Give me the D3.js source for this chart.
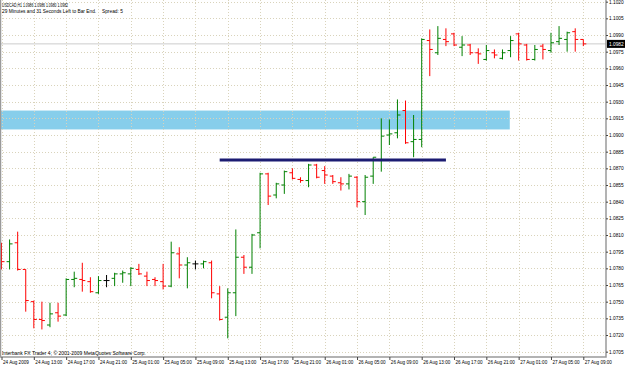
<!DOCTYPE html>
<html><head><meta charset="utf-8">
<script src="https://cdn.jsdelivr.net/npm/d3@7"></script>
<style>html,body{margin:0;padding:0;background:#fff;overflow:hidden}</style>
</head><body>
<svg id="c" width="625" height="366"></svg>
<script>
// ---- data (USDCAD, H1, 24 Aug 09:00 .. 27 Aug 09:00) ----
const opens = [1.0797,1.0786,1.0803,1.0779,1.0750,1.0734,1.0729,1.0740,1.0738,1.0770,
  1.0770,1.0768,1.0758,1.0769,1.0771,1.0775,1.0775,1.0779,1.0773,1.0770,
  1.0768,1.0764,1.0793,1.0783,1.0784,1.0784,1.0785,1.0757,1.0736,1.0758,
  1.0790,1.0781,1.0812,1.0865,1.0846,1.0855,1.0866,1.0860,1.0859,1.0873,
  1.0868,1.0863,1.0857,1.0856,1.0862,1.0840,1.0863,1.0877,1.0900,1.0902,
  1.0922,1.0894,1.0896,1.0985,1.0974,1.0986,1.0991,1.0979,1.0981,1.0974,
  1.0968,1.0974,1.0969,1.0976,1.0991,1.0981,1.0968,1.0980,1.0976,1.0984,
  1.0986,1.0993,1.0986];
const highs = [1.0803,1.0806,1.0813,1.0779,1.0751,1.0750,1.0749,1.0749,1.0771,1.0777,
  1.0785,1.0772,1.0773,1.0774,1.0776,1.0778,1.0781,1.0784,1.0777,1.0772,
  1.0784,1.0804,1.0799,1.0790,1.0787,1.0787,1.0787,1.0764,1.0762,1.0815,
  1.0792,1.0811,1.0866,1.0866,1.0857,1.0868,1.0870,1.0862,1.0874,1.0874,
  1.0872,1.0864,1.0862,1.0865,1.0863,1.0864,1.0880,1.0915,1.0914,1.0932,
  1.0931,1.0918,1.0987,1.0995,1.0998,1.0996,1.0992,1.0989,1.0982,1.0978,
  1.0981,1.0977,1.0977,1.0989,1.0992,1.0982,1.0981,1.0982,1.0992,1.0998,
  1.0993,1.0996,1.0986];
const lows = [1.0779,1.0779,1.0778,1.0741,1.0726,1.0725,1.0727,1.0732,1.0737,1.0763,
  1.0759,1.0758,1.0757,1.0763,1.0764,1.0767,1.0764,1.0774,1.0764,1.0764,
  1.0761,1.0763,1.0771,1.0762,1.0779,1.0780,1.0753,1.0733,1.0717,1.0737,
  1.0775,1.0775,1.0798,1.0837,1.0843,1.0847,1.0860,1.0857,1.0853,1.0861,
  1.0856,1.0856,1.0850,1.0851,1.0835,1.0828,1.0856,1.0867,1.0891,1.0897,
  1.0892,1.0880,1.0889,1.0953,1.0972,1.0980,1.0980,1.0971,1.0972,1.0964,
  1.0967,1.0969,1.0968,1.0970,1.0967,1.0967,1.0967,1.0968,1.0974,1.0981,
  1.0975,1.0975,1.0980];
const closes = [1.0786,1.0802,1.0779,1.0751,1.0734,1.0733,1.0739,1.0737,1.0770,1.0771,
  1.0769,1.0759,1.0769,1.0769,1.0775,1.0776,1.0780,1.0775,1.0769,1.0769,
  1.0764,1.0794,1.0783,1.0785,1.0784,1.0786,1.0758,1.0734,1.0758,1.0790,
  1.0781,1.0810,1.0865,1.0845,1.0856,1.0867,1.0861,1.0859,1.0873,1.0862,
  1.0864,1.0858,1.0856,1.0863,1.0840,1.0862,1.0880,1.0899,1.0901,1.0918,
  1.0893,1.0896,1.0986,1.0977,1.0987,1.0984,1.0981,1.0981,1.0974,1.0973,
  1.0976,1.0972,1.0974,1.0985,1.0982,1.0968,1.0977,1.0977,1.0983,1.0987,
  1.0992,1.0986,1.0982];
const timeLabels = ["24 Aug 2009","24 Aug 13:00","24 Aug 17:00","24 Aug 21:00","25 Aug 01:00",
  "25 Aug 05:00","25 Aug 09:00","25 Aug 13:00","25 Aug 17:00","25 Aug 21:00","26 Aug 01:00",
  "26 Aug 05:00","26 Aug 09:00","26 Aug 13:00","26 Aug 17:00","26 Aug 21:00","27 Aug 01:00",
  "27 Aug 05:00","27 Aug 09:00"];
const timeLabelBars = [0,4,8,12,16,20,24,28,32,36,40,44,48,52,56,60,64,68,72];
const priceTicks = [1.0705,1.0720,1.0735,1.0750,1.0765,1.0780,1.0795,1.0810,1.0825,1.0840,
  1.0855,1.0870,1.0885,1.0900,1.0915,1.0930,1.0945,1.0960,1.0975,1.0990,1.1005,1.1020];
const zonePrices = [1.0905, 1.0922];     // blue rectangle
const zoneBars = [-3, 62.9];
const levelPrice = [1.08775];            // navy horizontal line
const levelBars = [27, 55];
const currentPrice = [1.0982];
const headerLine1 = "USDCAD,H1  1.0986 1.0986 1.0980 1.0982";
const headerLine2 = "29 Minutes and 31 Seconds Left to Bar End.";
const headerLine2b = "Spread: 5";
const footer = "Interbank FX Trader 4, \u00A9 2001-2009 MetaQuotes Software Corp.";

// ---- layout ----
const W = 625, H = 366;
const plotRight = 606, plotBottom = 357;
const x = d3.scaleLinear().domain([0, 72]).range([1.5, 583.3]);
const y = d3.scaleLinear().domain([1.0810, 1.0900]).range([235, 135]);
const FONT = "'Liberation Sans', Arial, sans-serif";

const svg = d3.select("#c");
svg.append("rect").attr("width", W).attr("height", H).attr("fill", "#fff");
svg.append("defs").append("clipPath").attr("id", "pc")
  .append("rect").attr("x", 0).attr("y", 0).attr("width", plotRight).attr("height", plotBottom);
const plot = svg.append("g").attr("clip-path", "url(#pc)");

// blue zone
plot.append("rect")
  .attr("x", x(zoneBars[0])).attr("width", x(zoneBars[1]) - x(zoneBars[0]))
  .attr("y", y(zonePrices[1])).attr("height", y(zonePrices[0]) - y(zonePrices[1]))
  .attr("fill", "#87ceeb");

// grid
const gridColor = "#d9d3bb";
plot.selectAll(".hg").data(priceTicks).join("line")
  .attr("x1", 0).attr("x2", plotRight)
  .attr("y1", d => Math.round(y(d)) + 0.5).attr("y2", d => Math.round(y(d)) + 0.5)
  .attr("stroke", gridColor).attr("stroke-dasharray", "1,2");
plot.selectAll(".vg").data(timeLabelBars).join("line")
  .attr("x1", d => Math.round(x(d)) + 0.5).attr("x2", d => Math.round(x(d)) + 0.5)
  .attr("y1", 0).attr("y2", plotBottom)
  .attr("stroke", gridColor).attr("stroke-dasharray", "1,2");

// current price line
plot.append("line").attr("x1", 0).attr("x2", plotRight)
  .attr("y1", y(currentPrice[0])).attr("y2", y(currentPrice[0]))
  .attr("stroke", "#cccccc").attr("stroke-width", 1);

// OHLC bars
const bars = opens.map((o, i) => ({i, o, h: highs[i], l: lows[i], c: closes[i]}));
plot.selectAll(".bar").data(bars).join("path")
  .attr("d", d => {
    const cx = x(d.i);
    return `M${cx},${y(d.h)}V${y(d.l)}M${cx - 3},${y(d.o)}H${cx}M${cx},${y(d.c)}H${cx + 3}`;
  })
  .attr("fill", "none")
  .attr("stroke", d => d.c > d.o ? "#008000" : (d.c < d.o ? "#ff0000" : "#000000"))
  .attr("stroke-width", 1);

// navy level line
plot.append("line")
  .attr("x1", x(levelBars[0])).attr("x2", x(levelBars[1]))
  .attr("y1", y(levelPrice[0])).attr("y2", y(levelPrice[0]))
  .attr("stroke", "#1c1c72").attr("stroke-width", 3);

// border
svg.append("path")
  .attr("d", `M0.5,0V${plotBottom}H${plotRight}V0`)
  .attr("fill", "none").attr("stroke", "#9a9a9a").attr("stroke-width", 1.5);

// right axis
const ra = svg.append("g").attr("transform", `translate(${plotRight},0)`)
  .call(d3.axisRight(y).tickValues(priceTicks).tickSize(2).tickPadding(1)
    .tickFormat(d3.format(".4f")));
ra.select(".domain").remove();
ra.selectAll("line").attr("stroke", "#444");
ra.selectAll("text").attr("font-family", FONT).attr("font-size", 4.8).attr("fill", "#000");

// current price box
const cp = svg.append("g").attr("transform", `translate(${plotRight},${y(currentPrice[0])})`);
cp.append("rect").attr("x", 1).attr("y", -4).attr("width", W - plotRight - 1).attr("height", 8).attr("fill", "#000");
cp.append("text").attr("x", 3).attr("y", 0).attr("dy", "0.35em")
  .attr("font-family", FONT).attr("font-size", 4.8).attr("fill", "#fff")
  .text(d3.format(".4f")(currentPrice[0]));

// bottom axis
const ba = svg.append("g").attr("transform", `translate(0,${plotBottom})`)
  .call(d3.axisBottom(x).tickValues(timeLabelBars).tickSize(3).tickPadding(1)
    .tickFormat((d, k) => timeLabels[k]));
ba.select(".domain").remove();
ba.selectAll("line").attr("stroke", "#444");
ba.selectAll("text").attr("text-anchor", "start").attr("dx", 1)
  .attr("font-family", FONT).attr("font-size", 4.6).attr("fill", "#000");

// header & footer texts
svg.append("text").attr("x", 2).attr("y", 6.5).attr("font-family", FONT).attr("font-size", 5)
  .attr("textLength", 66).attr("lengthAdjust", "spacingAndGlyphs").text(headerLine1);
svg.append("text").attr("x", 2).attr("y", 12.5).attr("font-family", FONT).attr("font-size", 4.8)
  .text(headerLine2);
svg.append("text").attr("x", 102).attr("y", 12.5).attr("font-family", FONT).attr("font-size", 4.8)
  .text(headerLine2b);
svg.append("text").attr("x", 2).attr("y", 354.5).attr("font-family", FONT).attr("font-size", 5)
  .text(footer);
</script>
</body></html>
